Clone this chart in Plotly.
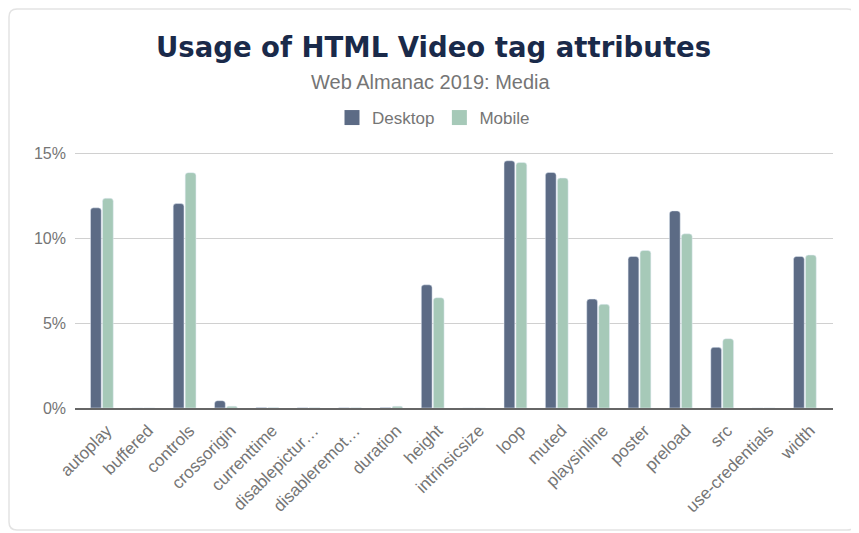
import plotly.graph_objects as go

# attributes of the <video> tag and their usage share (%)
attributes = ["autoplay", "buffered", "controls", "crossorigin", "currenttime",
              "disablepictur…", "disableremot…", "duration", "height", "intrinsicsize",
              "loop", "muted", "playsinline", "poster", "preload", "src",
              "use-credentials", "width"]
desktop = [11.78, 0.0, 12.03, 0.43, 0.03, 0.02, 0.02, 0.03, 7.25, 0.0,
           14.55, 13.86, 6.41, 8.92, 11.6, 3.57, 0.0, 8.92]
mobile = [12.34, 0.0, 13.85, 0.1, 0.03, 0.02, 0.02, 0.1, 6.49, 0.0,
          14.45, 13.53, 6.1, 9.27, 10.25, 4.08, 0.0, 9.0]

tick_vals = [0, 5, 10, 15]
tick_text = ["0%", "5%", "10%", "15%"]

DESKTOP_COLOR = "#5c6b85"
MOBILE_COLOR = "#a6c9b8"

# page body has an 8px margin, so the figure is laid out in its own pixels
W, H = 851, 525
L, R, T, B = 67, 825, 140, 400   # plot area in figure pixels


def px(x):
    return (x - L) / (R - L)


def py(y):
    return (B - y) / (B - T)


def rounded_card(x0, y0, x1, y1, r):
    return (f"M {px(x0 + r)},{py(y0)} L {px(x1 - r)},{py(y0)} "
            f"Q {px(x1)},{py(y0)} {px(x1)},{py(y0 + r)} "
            f"L {px(x1)},{py(y1 - r)} Q {px(x1)},{py(y1)} {px(x1 - r)},{py(y1)} "
            f"L {px(x0 + r)},{py(y1)} Q {px(x0)},{py(y1)} {px(x0)},{py(y1 - r)} "
            f"L {px(x0)},{py(y0 + r)} Q {px(x0)},{py(y0)} {px(x0 + r)},{py(y0)} Z")


fig = go.Figure()
fig.add_trace(go.Bar(x=attributes, y=desktop, name="Desktop", showlegend=False,
                     marker=dict(color=DESKTOP_COLOR, cornerradius=3)))
fig.add_trace(go.Bar(x=attributes, y=mobile, name="Mobile", showlegend=False,
                     marker=dict(color=MOBILE_COLOR, cornerradius=3)))
# legend entries with bigger square swatches
for name, color in [("Desktop", DESKTOP_COLOR), ("Mobile", MOBILE_COLOR)]:
    fig.add_trace(go.Scatter(x=[None], y=[None], mode="markers", name=name,
                             marker=dict(symbol="square", size=15, color=color)))

fig.add_shape(type="path", xref="paper", yref="paper",
              path=rounded_card(1, 1, 847, 522, 8),
              line=dict(color="#e3e3e3", width=1.5), layer="below")

fig.update_layout(
    width=W, height=H,
    margin=dict(l=L, r=W - R, t=T, b=H - B, autoexpand=False),
    paper_bgcolor="white", plot_bgcolor="white",
    font=dict(family="Liberation Sans, Arial", color="#757575"),
    title=dict(text="<b>Usage of HTML Video tag attributes</b>",
               x=0.5, xanchor="center", y=1 - 39 / H, yanchor="middle",
               font=dict(size=27.5, color="#1a2a4a", family="DejaVu Sans")),
    annotations=[dict(text="Web Almanac 2019: Media", xref="paper", yref="paper",
                      x=px(423), y=py(74), xanchor="center", yanchor="middle",
                      showarrow=False, font=dict(size=20, color="#757575"))],
    legend=dict(orientation="h", xref="container", yref="container",
                x=0.5, xanchor="center", y=1 - 110 / H, yanchor="middle",
                font=dict(size=17, color="#757575"), itemwidth=30),
    bargap=0.42, bargroupgap=0.1,
    xaxis=dict(tickangle=-45, tickfont=dict(size=17, color="#757575"),
               range=[-0.65, 17.68], ticklabelshift=5, ticklabelstandoff=4,
               showline=True, linecolor="#666666", linewidth=2, ticks="",
               automargin=False),
    yaxis=dict(range=[0, 15.3], tickvals=tick_vals, ticktext=tick_text,
               tickfont=dict(size=16, color="#757575"), gridcolor="#d0d0d0",
               gridwidth=1, zeroline=False, ticks="", ticklabelstandoff=8,
               automargin=False),
)

fig.write_html("out.html")
